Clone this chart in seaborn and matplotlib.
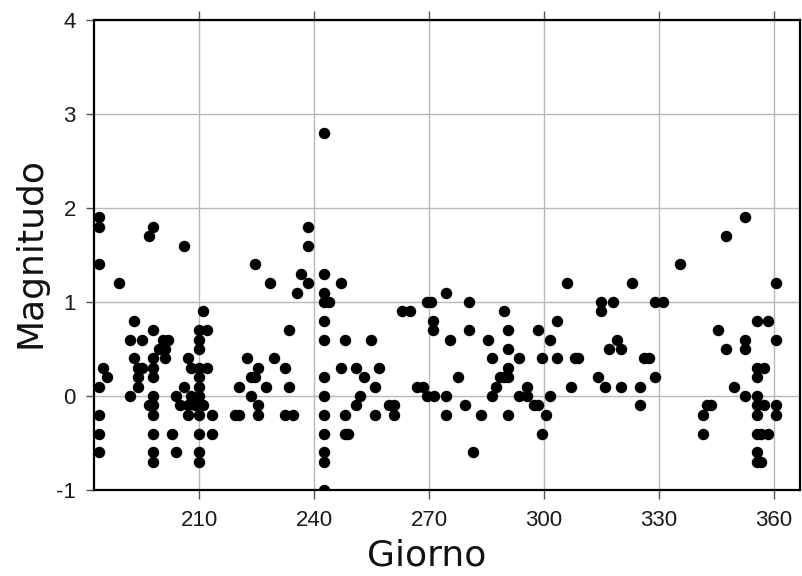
import matplotlib
matplotlib.use("Agg")
import matplotlib.pyplot as plt
import seaborn as sns
import pandas as pd

# --- data (day of year, magnitude) ---
giorno = [
    184, 184, 184, 184, 184, 184, 184,
    185, 186, 189,
    192, 192, 193, 193,
    194, 194, 194, 195, 195,
    197, 197,
    198, 198, 198, 198, 198, 198, 198, 198, 198, 198, 198,
    199.5, 200.5, 201, 201, 202,
    203, 204, 204, 205, 206, 206,
    207, 207, 207, 208, 208, 209,
    210, 210, 210, 210, 210, 210, 210, 210, 210, 210, 210,
    211, 211, 212, 212, 213.5, 213.5,
    219.5, 220.5, 220.5, 222.5, 223.5, 223.5, 224.5, 224.5,
    225.5, 225.5, 225.5, 227.5, 228.5, 229.5,
    232.5, 232.5, 233.5, 233.5, 234.5, 235.5, 236.5,
    238.5, 238.5, 238.5,
    242.5, 242.5, 242.5, 242.5, 242.5, 242.5, 242.5, 242.5, 242.5, 242.5, 242.5, 242.5, 242.5,
    244, 247, 247, 248, 248, 248, 249,
    251, 251, 252, 253, 255, 256, 256, 257,
    259.5, 261, 261, 263, 265, 267, 268.5,
    269.5, 269.5, 270.5, 271, 271, 271.3,
    274.5, 274.5, 274.5, 275.5, 277.5, 279.5,
    280.5, 280.5, 281.5, 283.5, 285.5, 286.5, 286.5, 287.5, 288.5,
    289.5, 289.5, 290.5, 290.5, 290.5, 290.5, 290.5,
    293.5, 293.5, 295.5, 295.5, 297.5, 298.5, 298.5,
    299.5, 299.5, 300.5, 301.5, 301.5, 303.5, 303.5,
    306, 307, 308, 309,
    314, 315, 315, 316, 317, 318, 319, 320, 320,
    323, 325, 325, 326, 327.5, 329, 329, 331, 335.5,
    341.5, 341.5, 342.5, 343.5, 345.5, 347.5, 347.5, 349.5,
    352.5, 352.5, 352.5, 352.5,
    355.5, 355.5, 355.5, 355.5, 355.5, 355.5, 355.5, 355.5, 355.5,
    356.5, 356.5, 357.5, 357.5, 358.5, 358.5,
    360.5, 360.5, 360.5, 360.5,
]
magnitudo = [
    1.9, 1.8, 1.4, 0.1, -0.2, -0.4, -0.6,
    0.3, 0.2, 1.2,
    0.6, 0.0, 0.8, 0.4,
    0.2, 0.1, 0.3, 0.6, 0.3,
    1.7, -0.1,
    1.8, 0.7, 0.4, 0.3, 0.2, 0.0, -0.1, -0.2, -0.4, -0.6, -0.7,
    0.5, 0.6, 0.5, 0.4, 0.6,
    -0.4, 0.0, -0.6, -0.1, 1.6, 0.1,
    0.4, -0.1, -0.2, 0.3, 0.0, -0.1,
    0.7, 0.6, 0.5, 0.3, 0.2, 0.1, 0.0, -0.2, -0.4, -0.6, -0.7,
    0.9, -0.1, 0.7, 0.3, -0.2, -0.4,
    -0.2, -0.2, 0.1, 0.4, 0.2, 0.0, 1.4, 0.2,
    0.3, -0.1, -0.2, 0.1, 1.2, 0.4,
    0.3, -0.2, 0.7, 0.1, -0.2, 1.1, 1.3,
    1.8, 1.6, 1.2,
    2.8, 1.3, 1.1, 1.0, 0.8, 0.6, 0.2, 0.0, -0.2, -0.4, -0.6, -0.7, -1.0,
    1.0, 1.2, 0.3, 0.6, -0.2, -0.4, -0.4,
    0.3, -0.1, 0.0, 0.2, 0.6, 0.1, -0.2, 0.3,
    -0.1, -0.1, -0.2, 0.9, 0.9, 0.1, 0.1,
    1.0, 0.0, 1.0, 0.8, 0.7, 0.0,
    1.1, 0.0, -0.2, 0.6, 0.2, -0.1,
    1.0, 0.7, -0.6, -0.2, 0.6, 0.4, 0.0, 0.1, 0.2,
    0.9, 0.2, 0.7, 0.5, 0.3, 0.2, -0.2,
    0.4, 0.0, 0.1, 0.0, -0.1, 0.7, -0.1,
    0.4, -0.4, -0.2, 0.6, 0.0, 0.8, 0.4,
    1.2, 0.1, 0.4, 0.4,
    0.2, 1.0, 0.9, 0.1, 0.5, 1.0, 0.6, 0.5, 0.1,
    1.2, 0.1, -0.1, 0.4, 0.4, 1.0, 0.2, 1.0, 1.4,
    -0.2, -0.4, -0.1, -0.1, 0.7, 1.7, 0.5, 0.1,
    1.9, 0.6, 0.5, 0.0,
    0.8, 0.3, 0.2, 0.0, -0.1, -0.2, -0.4, -0.6, -0.7,
    -0.4, -0.7, 0.3, -0.1, 0.8, -0.4,
    1.2, 0.6, -0.1, -0.2,
]
x_ticks = [210, 240, 270, 300, 330, 360]
y_ticks = [-1, 0, 1, 2, 3, 4]
x_label = "Giorno"
y_label = "Magnitudo"

df = pd.DataFrame({"Giorno": giorno, "Magnitudo": magnitudo})

sns.set_style("white")
plt.rcParams["axes.unicode_minus"] = False

W, H = 803, 576
fig = plt.figure(figsize=(W / 100, H / 100), dpi=100)
ax = fig.add_axes([94 / W, 1 - 490 / H, (800 - 94) / W, (490 - 20) / H])

sns.scatterplot(data=df, x="Giorno", y="Magnitudo", ax=ax, color="black",
                s=68, linewidth=0, zorder=3, legend=False)

ax.set_xlim(182.6, 366.8)
ax.set_ylim(-1, 4)
ax.set_xticks(x_ticks)
ax.set_yticks(y_ticks)
ax.set_xticklabels([str(t) for t in x_ticks], fontfamily="Liberation Sans", fontsize=16, color="#1a1a1a")
ax.set_yticklabels([str(t) for t in y_ticks], fontfamily="Liberation Sans", fontsize=16, color="#1a1a1a")

ax.grid(True, color="#b8b8b8", linewidth=1.0, zorder=0)
ax.set_axisbelow(True)

for sp in ax.spines.values():
    sp.set_visible(True)
    sp.set_color("black")
    sp.set_linewidth(1.6)

ax.tick_params(axis="x", which="both", direction="out", top=True, bottom=True,
               length=6.5, width=1.0, color="#555555", pad=8)
ax.tick_params(axis="y", which="both", direction="out", left=True, right=False,
               length=6, width=1.0, color="#555555", pad=7)

ax.set_xlabel(x_label, fontfamily="DejaVu Sans", fontsize=26, color="#111111")
ax.set_ylabel(y_label, fontfamily="DejaVu Sans", fontsize=26, color="#111111")
ax.xaxis.set_label_coords((427 - 94) / 706, -0.103)
ax.yaxis.set_label_coords(-0.066, (490 - 253) / 470)

fig.savefig("out.png", dpi=100)
